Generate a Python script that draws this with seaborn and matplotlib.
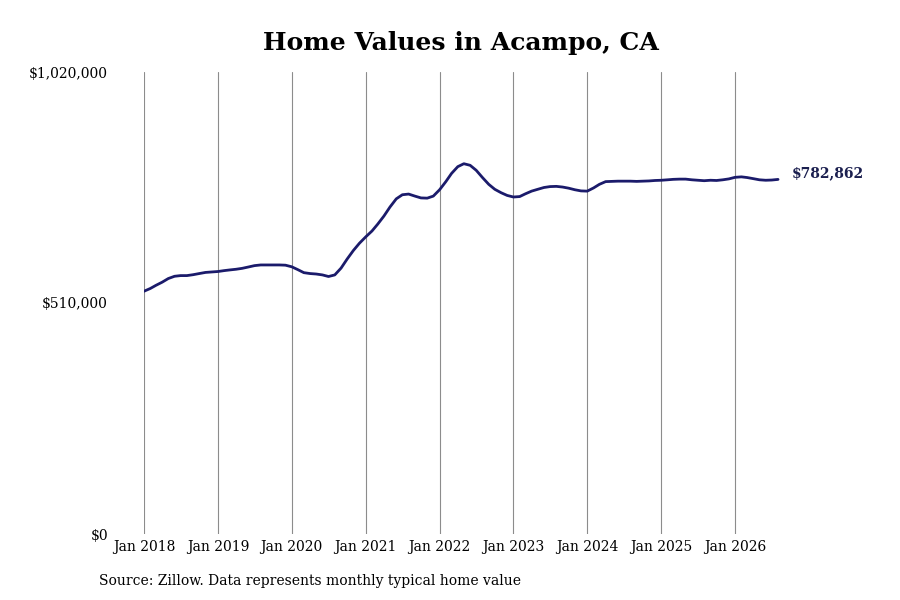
import matplotlib
matplotlib.use("Agg")
import matplotlib.pyplot as plt
import matplotlib.dates as mdates
import matplotlib.ticker as mticker
import pandas as pd
import seaborn as sns

# monthly typical home value, Jan 2018 - Aug 2026
values_2018 = [536000, 542000, 549000, 556000, 564000, 569000,
               570500, 570500, 572500, 575000, 577500, 578500]
values_2019 = [579500, 581500, 583000, 584500, 586500, 589500,
               592500, 594000, 594000, 594000, 594000, 593500]
values_2020 = [590000, 583500, 577000, 575000, 574000, 572000,
               568500, 572000, 587000, 607000, 626000, 642000]
values_2021 = [656000, 669000, 684000, 702000, 722000, 740000,
               749000, 750500, 746000, 742000, 741500, 746000]
values_2022 = [760000, 778000, 796000, 811000, 817500, 814000,
               803000, 787000, 772000, 761000, 753500, 747500]
values_2023 = [744000, 745000, 751000, 757000, 761000, 765000,
               767000, 767500, 766000, 763500, 760000, 757500]
values_2024 = [757000, 764000, 772000, 778000, 778500, 779000,
               779000, 779000, 778500, 779000, 779500, 780500]
values_2025 = [781000, 782000, 783000, 783500, 783500, 782000,
               781000, 780000, 781000, 780500, 782000, 784000]
values_2026 = [787500, 788500, 787000, 784500, 782000, 781000,
               781500, 782862]

values = (values_2018 + values_2019 + values_2020 + values_2021 + values_2022
          + values_2023 + values_2024 + values_2025 + values_2026)
dates = pd.date_range("2018-01-01", periods=len(values), freq="MS")
df = pd.DataFrame({"date": dates, "value": values})

y_ticks = [0, 510000, 1020000]
x_ticks = pd.date_range("2018-01-01", "2026-01-01", freq="YS")

sns.set_theme(style="white")
plt.rcParams["font.family"] = ["DejaVu Serif"]

line_color = "#1b1b6b"

fig = plt.figure(figsize=(9, 6), dpi=100)
ax = fig.add_axes([0.16, 0.11, 0.729, 0.77])

sns.lineplot(data=df, x="date", y="value", ax=ax, color=line_color, linewidth=2)

ax.set_xlim(pd.Timestamp("2018-01-01"), pd.Timestamp("2026-11-18"))
ax.set_ylim(0, 1020000)
ax.set_yticks(y_ticks)
ax.yaxis.set_major_formatter(mticker.FuncFormatter(lambda v, p: f"${v:,.0f}"))
ax.set_xticks(x_ticks)
ax.xaxis.set_major_formatter(mdates.DateFormatter("%b %Y"))

ax.grid(axis="x", color="#8c8c8c", linewidth=0.8)
ax.grid(axis="y", visible=False)
for s in ax.spines.values():
    s.set_visible(False)
ax.tick_params(axis="y", length=0, pad=26, labelsize=10, colors="black")
ax.tick_params(axis="x", length=0, pad=4, labelsize=10, colors="black")
ax.set_xlabel("")
ax.set_ylabel("")

ax.annotate(f"${values[-1]:,}", xy=(df["date"].iloc[-1], values[-1]),
            xytext=(10, 4.5), textcoords="offset points", va="center", ha="left",
            fontsize=10, fontweight="bold", color="#1b1f4f")

fig.text(461 / 900, 1 - 43 / 600, "Home Values in Acampo, CA", ha="center",
         va="center", fontsize=18, fontweight="bold", color="black")
fig.text(99 / 900, 1 - 581 / 600,
         "Source: Zillow. Data represents monthly typical home value",
         ha="left", va="center", fontsize=10, color="black")

fig.savefig("out.png", dpi=100)
